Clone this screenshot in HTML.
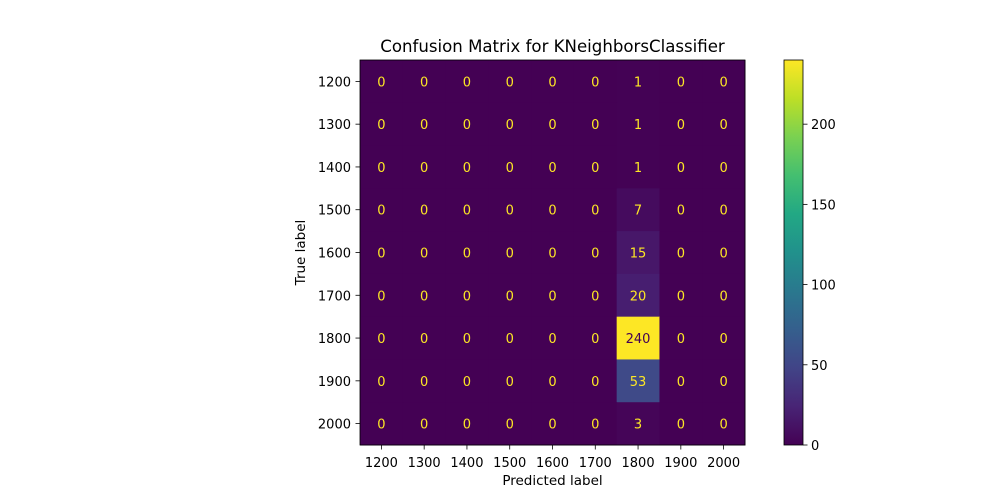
<!DOCTYPE html>
<html><head><meta charset="utf-8"><style>body{margin:0;background:#fff}svg{display:block;font-family:"DejaVu Sans","Liberation Sans",sans-serif}</style></head>
<body>
<svg id="chart" width="1000" height="500" xmlns="http://www.w3.org/2000/svg">
<defs><linearGradient id="vg" x1="0" y1="1" x2="0" y2="0">
<stop offset="0" stop-color="#440154"/><stop offset="0.1" stop-color="#482475"/><stop offset="0.2" stop-color="#414487"/><stop offset="0.3" stop-color="#355f8d"/><stop offset="0.4" stop-color="#2a788e"/><stop offset="0.5" stop-color="#21918c"/><stop offset="0.6" stop-color="#22a884"/><stop offset="0.7" stop-color="#44bf70"/><stop offset="0.8" stop-color="#7ad151"/><stop offset="0.9" stop-color="#bddf26"/><stop offset="1" stop-color="#fde725"/></linearGradient></defs>
<text x="552.5" y="52" font-size="16.6" text-anchor="middle">Confusion Matrix for KNeighborsClassifier</text>
<g id="cells"></g>
<rect x="360" y="60" width="385" height="385" fill="none" stroke="#000" stroke-width="0.8"/>
<g id="axes"></g>
<text x="552.5" y="485" font-size="13.5" text-anchor="middle">Predicted label</text>
<text transform="translate(305,252.5) rotate(-90)" font-size="13.5" text-anchor="middle">True label</text>
<rect x="784" y="60" width="19" height="385" fill="url(#vg)" stroke="#000" stroke-width="0.8"/>
<g id="cbar"></g>
</svg>
<script>
const labels=["1200","1300","1400","1500","1600","1700","1800","1900","2000"];
const predCol=[1,1,1,7,15,20,240,53,3];
const cbTicks=[0,50,100,150,200];
const vmax=240;
const stops=["#440154","#482475","#414487","#355f8d","#2a788e","#21918c","#22a884","#44bf70","#7ad151","#bddf26","#fde725"];
function hex(h){return [1,3,5].map(i=>parseInt(h.substr(i,2),16));}
function viridis(t){t=Math.max(0,Math.min(1,t));const f=t*10,i=Math.min(9,Math.floor(f)),r=f-i;const a=hex(stops[i]),b=hex(stops[i+1]);return "rgb("+a.map((v,k)=>Math.round(v+(b[k]-v)*r)).join(",")+")";}
const X0=360,Y0=60,S=385/9;
const ns="http://www.w3.org/2000/svg";
function el(t,a,p){const e=document.createElementNS(ns,t);for(const k in a)e.setAttribute(k,a[k]);p.appendChild(e);return e;}
const cells=document.getElementById('cells'),axes=document.getElementById('axes'),cb=document.getElementById('cbar');
for(let r=0;r<9;r++)for(let c=0;c<9;c++){
 const v=c===6?predCol[r]:0;
 const rc=el('rect',{x:X0+c*S,y:Y0+r*S,width:S+0.5,height:S+0.5,fill:viridis(v/vmax)},cells);
 
 
 const tx=el('text',{x:X0+(c+0.5)*S,y:Y0+(r+0.5)*S+5,'font-size':13,'text-anchor':'middle',fill:v/vmax>0.5?'#440154':'#fde725'},cells);
 tx.textContent=v;
 
 
}
labels.forEach((l,i)=>{
 const cx=X0+(i+0.5)*S,cy=Y0+(i+0.5)*S;
 el('line',{x1:cx,x2:cx,y1:445,y2:449.5,stroke:'#000','stroke-width':0.8},axes);
 const xt=el('text',{x:cx,y:467,'font-size':13,'text-anchor':'middle'},axes);xt.textContent=l;
 
 
 el('line',{x1:355.5,x2:360,y1:cy,y2:cy,stroke:'#000','stroke-width':0.8},axes);
 const yt=el('text',{x:351,y:cy+5,'font-size':13,'text-anchor':'end'},axes);yt.textContent=l;
 
 
});
cbTicks.forEach(v=>{
 const y=445-v/vmax*385;
 el('line',{x1:803,x2:807.5,y1:y,y2:y,stroke:'#000','stroke-width':0.8},cb);
 const t=el('text',{x:811,y:y+5,'font-size':13},cb);t.textContent=v;
 
 
});
</script>
</body></html>
